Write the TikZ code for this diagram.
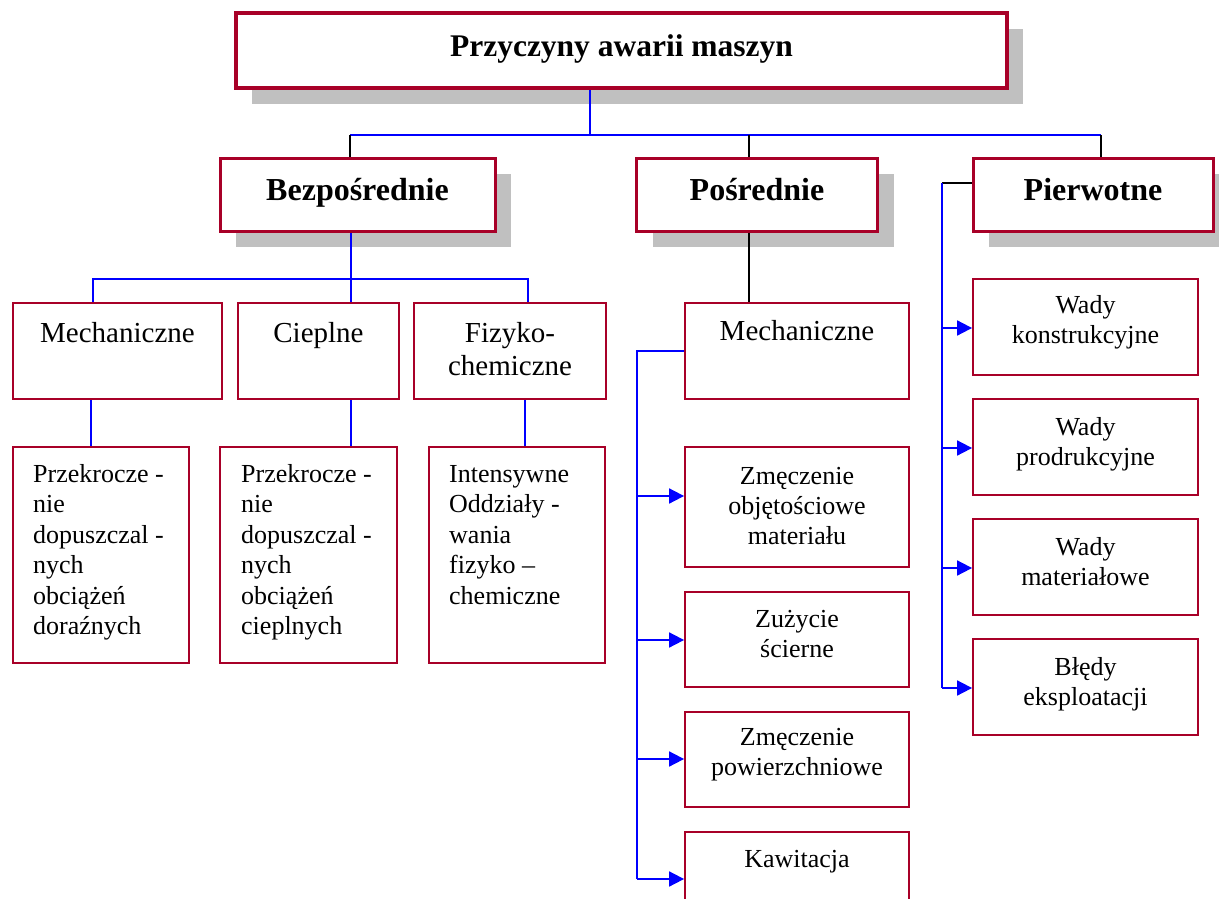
\documentclass[tikz,border=0pt]{standalone}
\usepackage{fontspec}
\setmainfont{Liberation Serif}
\usetikzlibrary{shadows,arrows.meta}
\definecolor{bred}{RGB}{168,0,40}
\definecolor{shgray}{RGB}{192,192,192}
\definecolor{lblue}{RGB}{0,0,255}
\tikzset{
  shad/.style={general shadow={fill=shgray, shadow xshift=16pt, shadow yshift=-16pt}},
  topbox/.style={draw=bred, line width=4pt, fill=white, shad, inner sep=0pt,
    text height=24pt, text depth=11pt,
    font=\bfseries\fontsize{31.5}{36}\selectfont},
  midbox/.style={draw=bred, line width=3pt, fill=white, shad, inner sep=0pt,
    text height=22pt, text depth=11pt,
    font=\bfseries\fontsize{32}{36}\selectfont},
  sbox/.style={draw=bred, line width=1.8pt, fill=white, inner sep=0pt},
  txt/.style={inner sep=0pt, align=center, anchor=north, font=\fontsize{26}{30}\selectfont},
  ltxt/.style={inner sep=0pt, align=left, anchor=north west, font=\fontsize{26}{30.5}\selectfont},
  mtxt/.style={inner sep=0pt, align=center, anchor=north, font=\fontsize{29}{33}\selectfont},
  bl/.style={draw=lblue, line width=1.8pt},
  bk/.style={draw=black, line width=1.8pt},
  arr/.style={bl, -{Triangle[length=15pt,width=15pt]}},
}
\begin{document}
\begin{tikzpicture}[x=1pt,y=-1pt]
\useasboundingbox (0,0) rectangle (1219,899);
\clip (0,0) rectangle (1219,899);
\fill[white] (0,0) rectangle (1219,899);

% top
\node[topbox, minimum width=771pt, minimum height=75pt] (title) at (621.5,50.5) {Przyczyny awarii maszyn};

% level 2
\node[midbox, minimum width=275pt, minimum height=73pt] (bez) at (357.5,194.5) {Bezpośrednie};
\node[midbox, minimum width=241pt, minimum height=73pt] (pos) at (757,194.5) {Pośrednie};
\node[midbox, minimum width=240pt, minimum height=73pt] (pie) at (1093,194.5) {Pierwotne};

% level 3 (Bezposrednie)
\node[sbox, minimum width=209pt, minimum height=96pt] (m1) at (117.5,351) {};
\node[sbox, minimum width=161pt, minimum height=96pt] (c1) at (318.5,351) {};
\node[sbox, minimum width=192pt, minimum height=96pt] (f1) at (510,351) {};
\node[mtxt] (tm1) at (117.5,320) {\rule{0pt}{22pt}Mechaniczne};
\node[mtxt] (tc1) at (318.5,320) {\rule{0pt}{22pt}Cieplne};
\node[mtxt] (tf1) at (510,320) {\rule{0pt}{22pt}Fizyko-\\chemiczne};

% level 4
\node[sbox, minimum width=176pt, minimum height=216pt] (p1) at (101,555) {};
\node[sbox, minimum width=177pt, minimum height=216pt] (p2) at (308.5,555) {};
\node[sbox, minimum width=176pt, minimum height=216pt] (p3) at (517,555) {};
\node[ltxt] (tp1) at (33,462) {\rule{0pt}{20pt}Przekrocze -\\nie\\dopuszczal -\\nych\\obciążeń\\doraźnych};
\node[ltxt] (tp2) at (241,462) {\rule{0pt}{20pt}Przekrocze -\\nie\\dopuszczal -\\nych\\obciążeń\\cieplnych};
\node[ltxt] (tp3) at (449,462) {\rule{0pt}{20pt}Intensywne\\Oddziały -\\wania\\fizyko –\\chemiczne};

% Posrednie children
\node[sbox, minimum width=224pt, minimum height=96pt] (mp) at (797,351) {};
\node[mtxt] (tmp) at (797,318) {\rule{0pt}{22pt}Mechaniczne};
\node[sbox, minimum width=224pt, minimum height=120pt] (z1) at (797,507) {};
\node[sbox, minimum width=224pt, minimum height=95pt] (z2) at (797,639.5) {};
\node[sbox, minimum width=224pt, minimum height=95pt] (z3) at (797,759.5) {};
\node[sbox, minimum width=224pt, minimum height=96pt] (z4) at (797,880) {};
\node[txt] (tz1) at (797,464) {\rule{0pt}{20pt}Zmęczenie\\objętościowe\\materiału};
\node[txt] (tz2) at (797,607) {\rule{0pt}{20pt}Zużycie\\ścierne};
\node[txt] (tz3) at (797,725) {\rule{0pt}{20pt}Zmęczenie\\powierzchniowe};
\node[txt] (tz4) at (797,847) {\rule{0pt}{20pt}Kawitacja};

% Pierwotne children
\node[sbox, minimum width=225pt, minimum height=96pt] (w1) at (1085.5,327) {};
\node[sbox, minimum width=225pt, minimum height=96pt] (w2) at (1085.5,447) {};
\node[sbox, minimum width=225pt, minimum height=96pt] (w3) at (1085.5,567) {};
\node[sbox, minimum width=225pt, minimum height=96pt] (w4) at (1085.5,687) {};
\node[txt] (tw1) at (1085.5,293) {\rule{0pt}{20pt}Wady\\konstrukcyjne};
\node[txt] (tw2) at (1085.5,415) {\rule{0pt}{20pt}Wady\\prodrukcyjne};
\node[txt] (tw3) at (1085.5,535) {\rule{0pt}{20pt}Wady\\materiałowe};
\node[txt] (tw4) at (1085.5,655) {\rule{0pt}{20pt}Błędy\\eksploatacji};

% connectors: top
\coordinate (hub) at (590,135);
\coordinate (jb) at (350,135);
\coordinate (jp) at (749,135);
\coordinate (jq) at (1101,135);
\draw[bl] (title.south -| hub) -- (hub);
\draw[bl] (jb) -- (jq);
\draw[bk] (jb) -- (jb |- bez.north);
\draw[bk] (jp) -- (jp |- pos.north);
\draw[bk] (jq) -- (jq |- pie.north);

% Bezposrednie
\coordinate (ka) at (93,279);
\coordinate (kb) at (351,279);
\coordinate (kc) at (528,279);
\draw[bl] (kb |- bez.south) -- (kb |- c1.north);
\draw[bl] (ka |- m1.north) -- (ka) -- (kc) -- (kc |- f1.north);
\coordinate (la) at (91,420);
\coordinate (lb) at (351,420);
\coordinate (lc) at (525,420);
\draw[bl] (la |- m1.south) -- (la |- p1.north);
\draw[bl] (lb |- c1.south) -- (lb |- p2.north);
\draw[bl] (lc |- f1.south) -- (lc |- p3.north);

% Posrednie
\draw[bk] (jp |- pos.south) -- (jp |- mp.north);
\coordinate (sp) at (637,351);
\coordinate (s1) at (637,496);
\coordinate (s2) at (637,640);
\coordinate (s3) at (637,759);
\coordinate (s4) at (637,879);
\draw[bl] (mp.west) -- (sp) -- (s4);
\draw[arr] (s1) -- (s1 -| z1.west);
\draw[arr] (s2) -- (s2 -| z2.west);
\draw[arr] (s3) -- (s3 -| z3.west);
\draw[arr] (s4) -- (s4 -| z4.west);

% Pierwotne
\coordinate (qa) at (942,183);
\coordinate (q1) at (942,328);
\coordinate (q2) at (942,448);
\coordinate (q3) at (942,568);
\coordinate (q4) at (942,688);
\draw[bk] (pie.west |- qa) -- (qa);
\draw[bl] (qa) -- (q4);
\draw[arr] (q1) -- (q1 -| w1.west);
\draw[arr] (q2) -- (q2 -| w2.west);
\draw[arr] (q3) -- (q3 -| w3.west);
\draw[arr] (q4) -- (q4 -| w4.west);
\end{tikzpicture}
\end{document}
